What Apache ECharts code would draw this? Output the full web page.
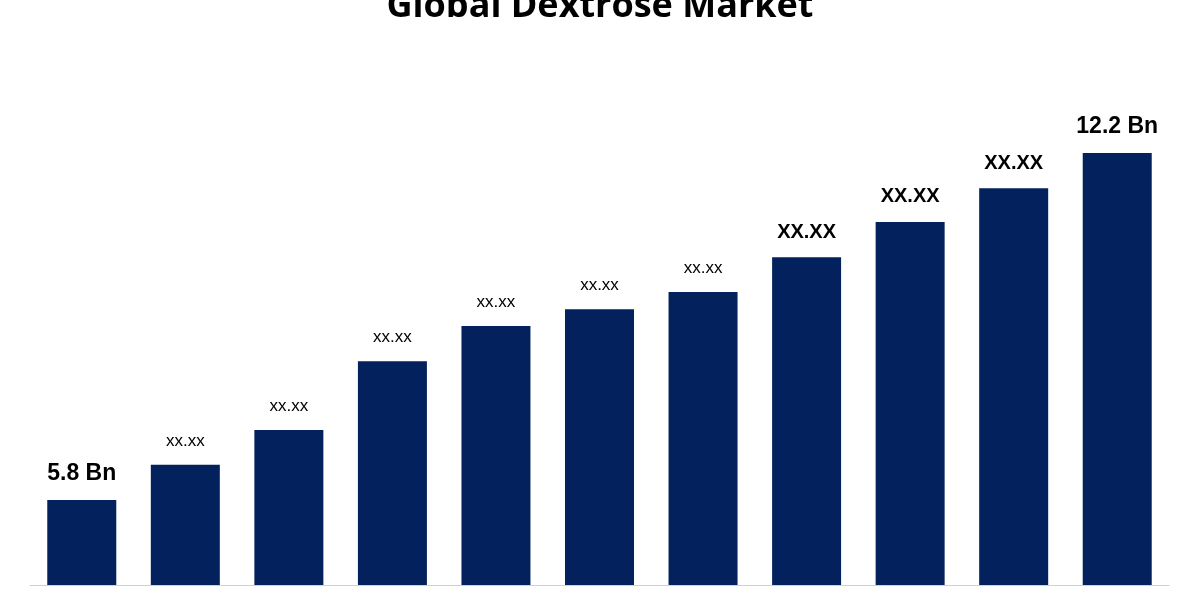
<!DOCTYPE html>
<html><head><meta charset="utf-8">
<script src="https://cdn.jsdelivr.net/npm/echarts@6/dist/echarts.min.js"></script>
<style>html,body{margin:0;padding:0;background:#fff}#c{width:1200px;height:600px}</style>
</head><body><div id="c"></div>
<script>
const categories = ['2023','2024','2025','2026','2027','2028','2029','2030','2031','2032','2033'];
const values = [5.8, 6.45, 7.09, 8.36, 9.01, 9.32, 9.64, 10.28, 10.93, 11.55, 12.2];
const labels = ['5.8 Bn','xx.xx','xx.xx','xx.xx','xx.xx','xx.xx','xx.xx','XX.XX','XX.XX','XX.XX','12.2 Bn'];
const labelStyles = ['big','small','small','small','small','small','small','mid','mid','mid','big'];

const chart = echarts.init(document.getElementById('c'));
chart.setOption({
  animation: false,
  title: { text: 'Global Dextrose Market', left: 'center', top: -16,
    textStyle: { fontFamily: 'Open Sans', fontWeight: 'bold', fontSize: 36, color: '#000' } },
  grid: { left: 30, right: 31, top: 100, bottom: 15 },
  xAxis: { type: 'category', data: categories, axisLabel: { show: false }, axisTick: { show: false },
    axisLine: { lineStyle: { color: '#d0d0d0', width: 1 } } },
  yAxis: { type: 'value', min: 4.232, max: 13.18, show: false, splitLine: { show: false } },
  series: [{
    type: 'bar', barWidth: 69,
    itemStyle: { color: '#03215d' },
    data: values.map((v, i) => ({ value: v, label: { formatter: labels[i],
      fontSize: labelStyles[i] === 'big' ? 23 : labelStyles[i] === 'mid' ? 20 : 17,
      fontWeight: labelStyles[i] === 'small' ? 'normal' : 'bold' } })),
    label: { show: true, position: 'top', distance: 15, color: '#000', fontFamily: 'Liberation Sans' }
  }]
});
</script></body></html>
